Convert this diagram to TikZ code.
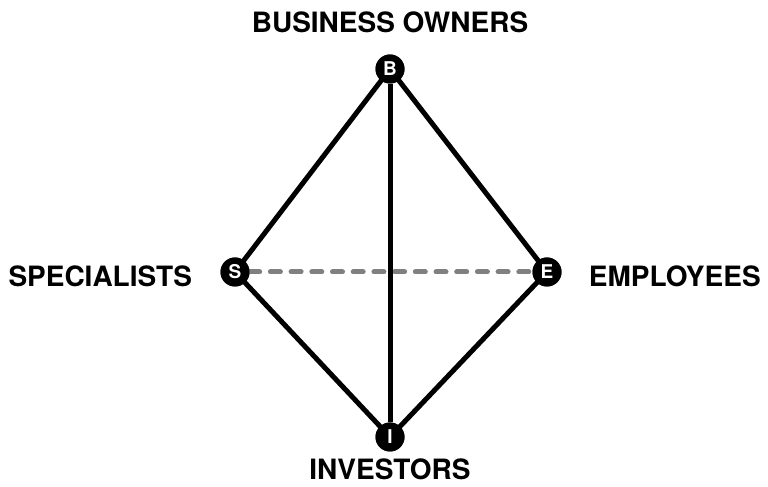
\documentclass[tikz,border=0pt]{standalone}
\usepackage{fontspec}
\setmainfont{TeX Gyre Heros}
\usepackage{tikz}
\usetikzlibrary{positioning}
\definecolor{edgegray}{RGB}{128,128,128}
\tikzset{
  vertex/.style={circle, fill=black, inner sep=0pt, minimum size=29pt, text=white, font=\bfseries\fontsize{19}{19}\selectfont},
  tag/.style={inner sep=0pt, font=\bfseries\fontsize{28}{28}\selectfont},
  link/.style={line width=5pt, black},
  weaklink/.style={line width=5pt, edgegray, line cap=round, dash pattern=on 10pt off 10.7pt},
}
\begin{document}
\begin{tikzpicture}[x=1pt, y=1pt]
  \useasboundingbox (0,0) rectangle (768,487);

  % corners of the diamond
  \node[vertex] (b) at (390,418) {B};
  \node[vertex] (s) at (235,215) {S};
  \node[vertex] (e) at (547,215) {E};
  \node[vertex] (i) at (390,50) {I};

  % labels
  \node[tag, above=21pt of b] (owners) {BUSINESS OWNERS};
  \node[tag, left=28pt of s, yshift=-4pt] (specialists) {SPECIALISTS};
  \node[tag, right=27pt of e, yshift=-4pt] (employees) {EMPLOYEES};
  \node[tag, below=7pt of i] (investors) {INVESTORS};

  % edges
  \draw[weaklink] (s) -- (e);
  \draw[link] (b.center) -- (s.center) -- (i.center) -- (e.center) -- cycle;
  \draw[link] (b) -- (i);

  % redraw corners on top
  \foreach \n/\t in {b/B, s/S, e/E, i/I} {
    \node[vertex] at (\n) {\t};
  }

\end{tikzpicture}
\end{document}
